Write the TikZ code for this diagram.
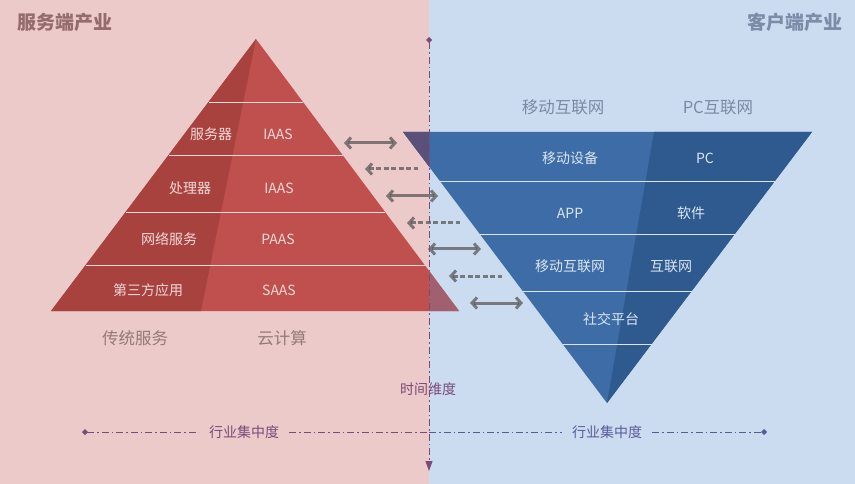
\documentclass[tikz,border=0pt]{standalone}
\usepackage{fontspec}
\newfontfamily\cjk{Noto Sans CJK SC}
\usetikzlibrary{calc,arrows.meta}
\definecolor{bgpink}{HTML}{ECCACA}
\definecolor{bgblue}{HTML}{CCDCF0}
\definecolor{pyrR}{HTML}{C0504D}
\definecolor{pyrL}{HTML}{A8423F}
\definecolor{pyrOv}{HTML}{A0606F}
\definecolor{triL}{HTML}{3D6CA6}
\definecolor{triR}{HTML}{2E5A8F}
\definecolor{triOv}{HTML}{5B5079}
\definecolor{pyrTxt}{HTML}{F2D8D8}
\definecolor{triTxt}{HTML}{DCE6F2}
\definecolor{pyrLab}{HTML}{957878}
\definecolor{triLab}{HTML}{7A8AA2}
\definecolor{titL}{HTML}{946C6E}
\definecolor{titR}{HTML}{7A8CA8}
\definecolor{axL}{HTML}{7A4A78}
\definecolor{axR}{HTML}{5A5A9A}
\tikzset{
  ptxt/.style={font=\cjk\fontsize{14}{16}\selectfont, text=pyrTxt, inner sep=0pt},
  ttxt/.style={font=\cjk\fontsize{14}{16}\selectfont, text=triTxt, inner sep=0pt},
  plab/.style={font=\cjk\fontsize{16.5}{18}\selectfont, text=pyrLab, inner sep=0pt},
  tlab/.style={font=\cjk\fontsize{16.5}{18}\selectfont, text=triLab, inner sep=0pt},
  ttl/.style={font=\cjk\bfseries\fontsize{19}{21}\selectfont, inner sep=0pt},
  axtxt/.style={font=\cjk\fontsize{14}{16}\selectfont, inner ysep=0pt, inner xsep=10pt},
  dbl/.style={draw=black!70, draw opacity=0.68, line width=3pt, {Straight Barb[length=5pt,width=11pt]}-{Straight Barb[length=5pt,width=11pt]}},
  dsh/.style={draw=black!70, draw opacity=0.68, line width=3pt, dash pattern=on 5pt off 2.5pt, {Straight Barb[length=5pt,width=11pt]}-},
  axis/.style={line width=1pt, dash pattern=on 7pt off 3pt on 1.5pt off 3pt},
  sep/.style={line width=0.8pt},
}
\begin{document}
\begin{tikzpicture}[x=1pt,y=-1pt]
\path[use as bounding box] (0,0) rectangle (855,484);
\fill[bgpink] (0,0) rectangle (429,484);
\fill[bgblue] (429,0) rectangle (855,484);

% pyramid
\coordinate (P) at (256,39);
\coordinate (PL) at (51,311);
\coordinate (PR) at (459,311);
\coordinate (PD) at (201,311);
\fill[pyrR] (P) -- (PL) -- (PR) -- cycle;
\fill[pyrL] (P) -- (PL) -- (PD) -- cycle;
\begin{scope}
\clip (429,0) rectangle (855,484);
\fill[pyrOv] (P) -- (PL) -- (PR) -- cycle;
\end{scope}
\foreach \t in {0.2316,0.4265,0.636,0.8309}
  \draw[sep, draw=pyrTxt] ($(P)!\t!(PL)$) -- ($(P)!\t!(PR)$);

% inverted triangle
\coordinate (TL) at (403,132);
\coordinate (TR) at (812,132);
\coordinate (TA) at (607,403);
\coordinate (TD) at (654,132);
\fill[triL] (TL) -- (TR) -- (TA) -- cycle;
\fill[triR] (TD) -- (TR) -- (TA) -- cycle;
\begin{scope}
\clip (0,0) rectangle (429,484);
\fill[triOv] (TL) -- (TR) -- (TA) -- cycle;
\end{scope}
\foreach \t in {0.1808,0.3764,0.5867,0.7823}
  \draw[sep, draw=triTxt] ($(TL)!\t!(TA)$) -- ($(TR)!\t!(TA)$);

% titles
\node[ttl, text=titL] (tl) at (65,22) {服务端产业};
\node[ttl, text=titR] (tr) at (795,22) {客户端产业};

% pyramid labels
\node[ptxt] (p1a) at (211,134) {服务器};
\node[ptxt] (p1b) at (278,134) {IAAS};
\node[ptxt] (p2a) at (190,188) {处理器};
\node[ptxt] (p2b) at (279,188) {IAAS};
\node[ptxt] (p3a) at (169,239) {网络服务};
\node[ptxt] (p3b) at (278,239) {PAAS};
\node[ptxt] (p4a) at (148,290) {第三方应用};
\node[ptxt] (p4b) at (279,290) {SAAS};
\node[plab] (pl1) at (135,338) {传统服务};
\node[plab] (pl2) at (282,338) {云计算};

% triangle labels
\node[tlab] (tl1) at (563,107) {移动互联网};
\node[tlab] (tl2) at (718,107) {PC互联网};
\node[ttxt] (t1a) at (570,158) {移动设备};
\node[ttxt] (t1b) at (705,158) {PC};
\node[ttxt] (t2a) at (570,213) {APP};
\node[ttxt] (t2b) at (691,213) {软件};
\node[ttxt] (t3a) at (570,266) {移动互联网};
\node[ttxt] (t3b) at (671,266) {互联网};
\node[ttxt] (t4a) at (611,319) {社交平台};

% arrows between
\coordinate (a1l) at (344,143); \coordinate (a1r) at (397,143);
\coordinate (a2l) at (365,169); \coordinate (a2r) at (418,169);
\coordinate (a3l) at (386,196); \coordinate (a3r) at (438,196);
\coordinate (a4l) at (407,223); \coordinate (a4r) at (460,223);
\coordinate (a5l) at (428,249); \coordinate (a5r) at (481,249);
\coordinate (a6l) at (449,276); \coordinate (a6r) at (502,276);
\coordinate (a7l) at (470,303); \coordinate (a7r) at (523,303);
\draw[dbl] (a1l) -- (a1r);
\draw[dsh] (a2l) -- (a2r);
\draw[dbl] (a3l) -- (a3r);
\draw[dsh] (a4l) -- (a4r);
\draw[dbl] (a5l) -- (a5r);
\draw[dsh] (a6l) -- (a6r);
\draw[dbl] (a7l) -- (a7r);

% horizontal axis
\coordinate (hl) at (82,432);
\coordinate (hr) at (767,432);
\coordinate (hc) at (429,432);
\node[axtxt, text=axL] (h1) at (244,432) {行业集中度};
\node[axtxt, text=axR] (h2) at (607,432) {行业集中度};
\draw[axis, draw=axL, {Diamond[length=6pt,width=6pt]}-] (hl) -- (h1);
\draw[axis, draw=axL] (h1) -- (hc);
\draw[axis, draw=axR] (hc) -- (h2);
\draw[axis, draw=axR, -{Diamond[length=6pt,width=6pt]}] (h2) -- (hr);

% vertical axis
\coordinate (vt) at (429,37);
\coordinate (vb) at (429,471);
\draw[axis, draw=axL, {Diamond[length=6pt,width=6pt]}-{Triangle[length=10pt,width=7pt]}] (vt) -- (vb);
\node[font=\cjk\fontsize{14}{16}\selectfont, text=axL, inner sep=0pt] (vlab) at (428,389) {时间维度};
\end{tikzpicture}
\end{document}
